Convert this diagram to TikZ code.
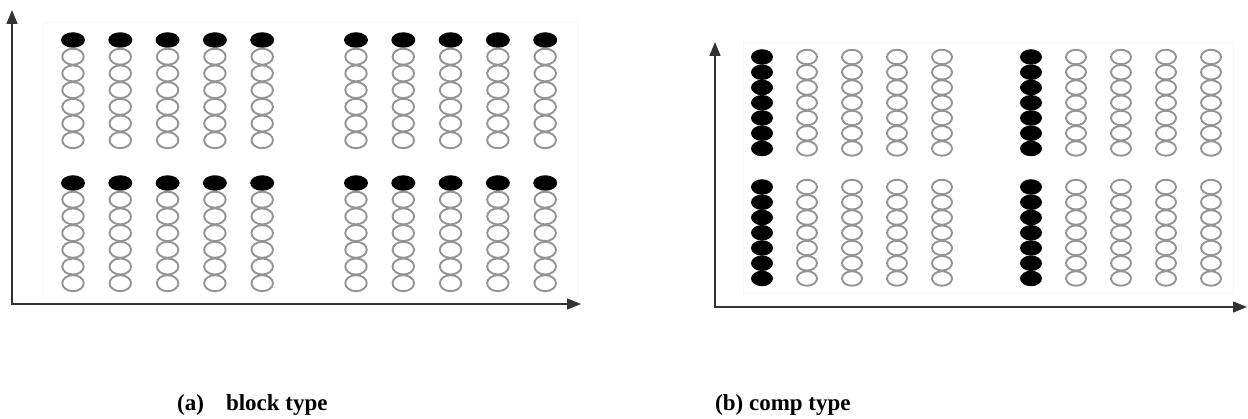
\documentclass[tikz,border=0pt]{standalone}
\usepackage{fontspec}
\setmainfont{Liberation Serif}
\usetikzlibrary{arrows.meta,shapes.geometric}
\tikzset{
  axisline/.style={line width=1.4pt, draw=black!80, {Triangle[length=14pt,width=11pt]}-{Triangle[length=14pt,width=11pt]}},
  frame/.style={draw=black!3, line width=0.8pt},
  dotfull/.style={ellipse, fill=black, draw=none, inner sep=0pt},
  dotopen/.style={ellipse, draw=black!42, line width=1.9pt, fill=none, inner sep=0pt},
  caption/.style={font=\bfseries\fontsize{23}{26}\selectfont, anchor=base west, inner sep=0pt}
}
\begin{document}
\begin{tikzpicture}[x=1pt,y=-1pt]
\useasboundingbox (0,0) rectangle (1248,419);
% faint frames
\draw[frame] (43,22) rectangle (578,297);
\draw[frame] (743,42) rectangle (1233,293);
% ---------- panel (a) ----------
\foreach \g/\xs in {L/73, R/356}{
  \foreach \blk/\ys in {T/40, B/183}{
    \foreach \c in {0,...,4}{
      \foreach \r in {0,...,6}{
        \pgfmathsetmacro{\xx}{\xs+47.3*\c}
        \pgfmathsetmacro{\yy}{\ys+16.7*\r}
        \ifnum\r=0
          \node[dotfull, minimum width=24pt, minimum height=15.5pt] (a-\g-\blk-\c-\r) at (\xx,\yy) {};
        \else
          \node[dotopen, minimum width=21.5pt, minimum height=16pt] (a-\g-\blk-\c-\r) at (\xx,\yy) {};
        \fi
      }
    }
  }
}
% ---------- panel (b) ----------
\foreach \g/\xs in {L/762, R/1031}{
  \foreach \blk/\ys in {T/57, B/187}{
    \foreach \c in {0,...,4}{
      \foreach \r in {0,...,6}{
        \pgfmathsetmacro{\xx}{\xs+45*\c}
        \pgfmathsetmacro{\yy}{\ys+15.25*\r}
        \ifnum\c=0
          \node[dotfull, minimum width=22pt, minimum height=15.5pt] (b-\g-\blk-\c-\r) at (\xx,\yy) {};
        \else
          \node[dotopen, minimum width=20pt, minimum height=14.5pt] (b-\g-\blk-\c-\r) at (\xx,\yy) {};
        \fi
      }
    }
  }
}
% axes
\coordinate (aY) at (12,10);
\coordinate (aX) at (581,304);
\draw[axisline] (aY) |- (aX);
\coordinate (bY) at (715,42);
\coordinate (bX) at (1247,307);
\draw[axisline] (bY) |- (bX);
% captions
\node[caption] (capa) at (177,411) {(a)\hspace{22pt}block type};
\node[caption] (capb) at (715,411) {(b) comp type};
\end{tikzpicture}
\end{document}
